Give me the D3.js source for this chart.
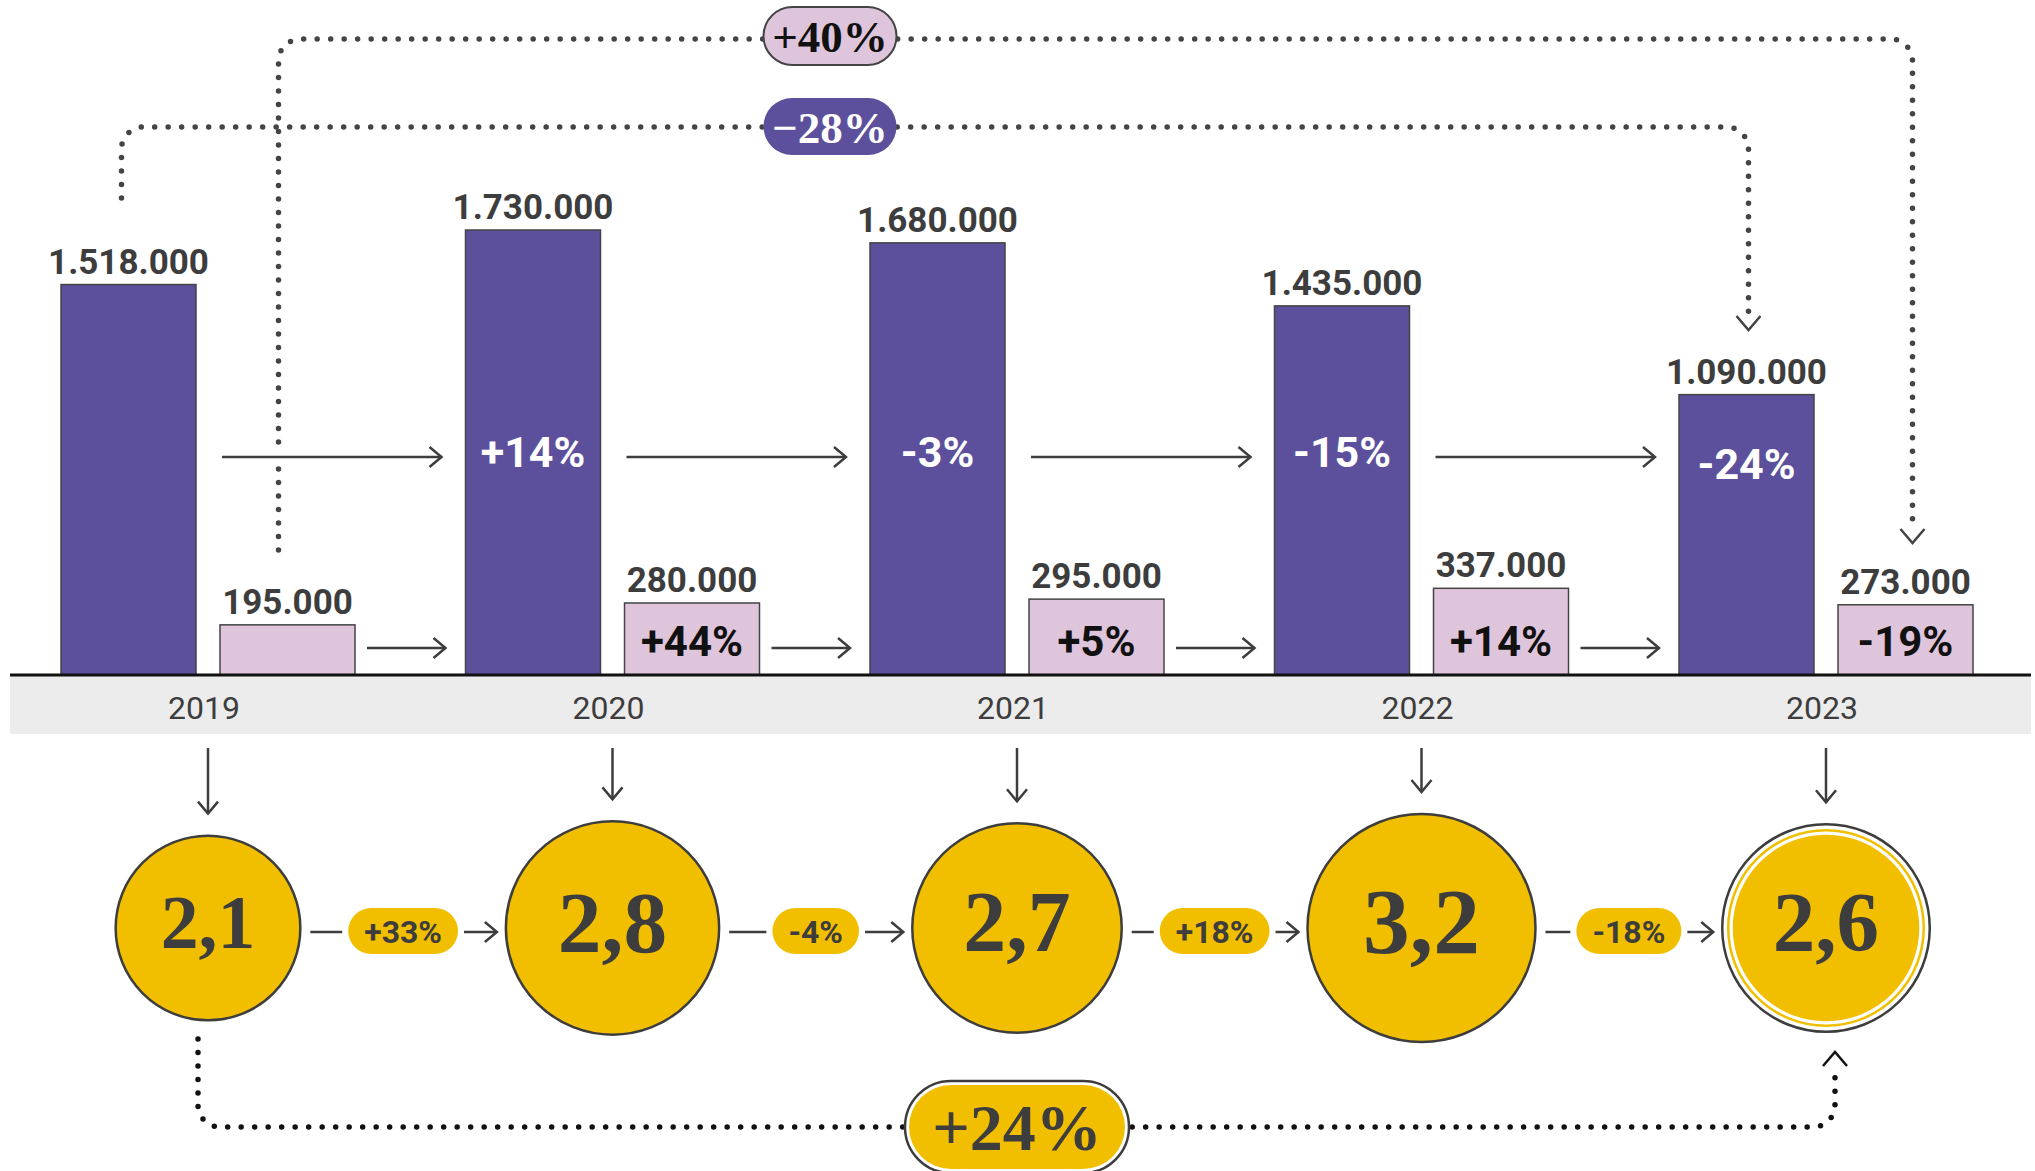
<!DOCTYPE html>
<html>
<head>
<meta charset="utf-8">
<script src="https://cdn.jsdelivr.net/npm/d3@7"></script>
<style>
  body { margin: 0; background: #fff; }
  svg { display: block; }
  text { font-family: Roboto, sans-serif; }
</style>
</head>
<body>
<svg width="2035" height="1171"></svg>
<script>
// Data
var years = ['2019', '2020', '2021', '2022', '2023']
var totalValues = [1518000, 1730000, 1680000, 1435000, 1090000]
var totalChange = [null, '+14%', '-3%', '-15%', '-24%']
var subValues = [195000, 280000, 295000, 337000, 273000]
var subChange = [null, '+44%', '+5%', '+14%', '-19%']
var ratioValues = [2.1, 2.8, 2.7, 3.2, 2.6]
var ratioChange = ['+33%', '-4%', '+18%', '-18%']
var totalOverall = '\u221228%'
var subOverall = '+40%'
var ratioOverall = '+24%'

var PURPLE = '#5c509c', PINK = '#dec5dc', YELLOW = '#f2bf00', DARK = '#3d3d3d'

var svg = d3.select('svg'),
  width = +svg.attr('width'),
  height = +svg.attr('height')

var locale = d3.formatLocale({ decimal: ',', thousands: '.', grouping: [3], currency: ['', ''] })
var fmtInt = locale.format(',d')
var fmtDec = locale.format('.1f')

// Scales
var baseY = 675
var x = d3.scalePoint().domain(years).range([208, 1826])
var inner = d3.scaleBand().domain(['total', 'sub']).range([-147, 147]).paddingInner(0.151)
var y = d3.scaleLinear().domain([0, 1730000]).range([baseY, 230])
var r = d3.scaleSqrt().domain([0, 3.2]).range([0, 114])
var cy = 928

var totX = function(i) { return x(years[i]) + inner('total') }
var subX = function(i) { return x(years[i]) + inner('sub') }
var bw = inner.bandwidth()

// helpers
function chevron(g, px, py, dir, len, half, color) {
  var d
  if (dir === 'right') d = 'M' + (px - len) + ',' + (py - half) + 'L' + px + ',' + py + 'L' + (px - len) + ',' + (py + half)
  if (dir === 'down') d = 'M' + (px - half) + ',' + (py - len) + 'L' + px + ',' + py + 'L' + (px + half) + ',' + (py - len)
  if (dir === 'up') d = 'M' + (px - half) + ',' + (py + len) + 'L' + px + ',' + py + 'L' + (px + half) + ',' + (py + len)
  g.append('path').attr('d', d).attr('fill', 'none')
    .attr('stroke', color || DARK).attr('stroke-width', 2.5).attr('stroke-linejoin', 'miter')
}

function arrow(g, x1, y1, x2, y2) {
  g.append('line').attr('x1', x1).attr('y1', y1).attr('x2', x2).attr('y2', y2)
    .attr('stroke', DARK).attr('stroke-width', 2.5)
  chevron(g, x2, y2, y2 > y1 ? 'down' : 'right', 12, 10)
}

function dotted(g, x0, y0, yh, x1, y1, tip, color) {
  var rad = 22, s = x1 > x0 ? 1 : -1
  var v0 = yh < y0 ? 1 : -1, v1 = y1 > yh ? 1 : -1
  var p = d3.path()
  p.moveTo(x0, y0)
  p.lineTo(x0, yh + v0 * rad)
  p.arcTo(x0, yh, x0 + s * rad, yh, rad)
  p.lineTo(x1 - s * rad, yh)
  p.arcTo(x1, yh, x1, yh + v1 * rad, rad)
  p.lineTo(x1, y1)
  g.append('path').attr('d', p.toString()).attr('fill', 'none')
    .attr('stroke', color).attr('stroke-width', 5.5)
    .attr('stroke-linecap', 'round').attr('stroke-dasharray', '0 13.5')
  chevron(g, x1, tip, v1 > 0 ? 'down' : 'up', 14, 12, color)
}

function pill(g, cx, cyy, w, h, fill, stroke) {
  g.append('rect').attr('x', cx - w / 2).attr('y', cyy - h / 2)
    .attr('width', w).attr('height', h).attr('rx', h / 2)
    .attr('fill', fill).attr('stroke', stroke || 'none').attr('stroke-width', 2)
}

// Band and baseline
svg.append('rect').attr('x', 10).attr('y', baseY).attr('width', width - 14).attr('height', 59).attr('fill', '#ececec')

// Year labels
svg.append('g').selectAll('text').data(years).enter().append('text')
  .attr('x', function(d) { return x(d) - 4 }).attr('y', 719)
  .attr('text-anchor', 'middle').attr('font-size', 32).attr('fill', DARK)
  .text(function(d) { return d })

// Dotted overall connectors
var conn = svg.append('g')
var last = years.length - 1
dotted(conn, totX(0) + bw / 2 - 7, 198, 127, totX(last) + bw / 2 + 2, 318, 330, '#444')
dotted(conn, subX(0) + bw / 2 - 9, 550, 39, subX(last) + bw / 2 + 7, 530, 543, '#444')

// Arrows between bars
var arrows = svg.append('g')
for (var i = 0; i < last; i++) {
  arrows.append('line').attr('x1', subX(i) + 2).attr('x2', totX(i + 1) - 24)
    .attr('y1', 457).attr('y2', 457).attr('stroke', '#fff').attr('stroke-width', 12)
  arrow(arrows, subX(i) + 2, 457, totX(i + 1) - 24, 457)
  arrow(arrows, subX(i) + bw + 12, 648, totX(i + 1) - 20, 648)
}

// Bars
var bars = svg.append('g')
bars.selectAll('rect.total').data(totalValues).enter().append('rect')
  .attr('x', function(d, i) { return totX(i) }).attr('y', function(d) { return y(d) })
  .attr('width', bw).attr('height', function(d) { return baseY - y(d) })
  .attr('fill', PURPLE).attr('stroke', '#444').attr('stroke-width', 1.5)
bars.selectAll('rect.sub').data(subValues).enter().append('rect')
  .attr('x', function(d, i) { return subX(i) }).attr('y', function(d) { return y(d) })
  .attr('width', bw).attr('height', function(d) { return baseY - y(d) })
  .attr('fill', PINK).attr('stroke', '#444').attr('stroke-width', 1.5)
svg.append('line').attr('x1', 10).attr('x2', width - 4).attr('y1', baseY).attr('y2', baseY)
  .attr('stroke', '#111').attr('stroke-width', 3)

// Value labels
var labels = svg.append('g').attr('font-weight', 700).attr('text-anchor', 'middle')
labels.selectAll('text.tv').data(totalValues).enter().append('text')
  .attr('x', function(d, i) { return totX(i) + bw / 2 }).attr('y', function(d) { return y(d) - 11 })
  .attr('font-size', 35).attr('fill', DARK).text(function(d) { return fmtInt(d) })
labels.selectAll('text.sv').data(subValues).enter().append('text')
  .attr('x', function(d, i) { return subX(i) + bw / 2 }).attr('y', function(d) { return y(d) - 11 })
  .attr('font-size', 35).attr('fill', DARK).text(function(d) { return fmtInt(d) })
labels.selectAll('text.tc').data(totalChange).enter().append('text')
  .attr('x', function(d, i) { return totX(i) + bw / 2 })
  .attr('y', function(d, i) { return Math.max(467, y(totalValues[i]) + 84) })
  .attr('font-size', 43).attr('fill', '#fff').text(function(d) { return d || '' })
labels.selectAll('text.sc').data(subChange).enter().append('text')
  .attr('x', function(d, i) { return subX(i) + bw / 2 }).attr('y', 656)
  .attr('font-size', 42).attr('fill', '#111').text(function(d) { return d || '' })

// Overall pills (top)
pill(svg, 830, 36, 133, 58, PINK, '#444')
svg.append('text').attr('x', 830).attr('y', 52).attr('text-anchor', 'middle')
  .style('font-family', '"Liberation Serif", serif').attr('font-weight', 700)
  .attr('font-size', 45).attr('fill', '#111').text(subOverall)
pill(svg, 830, 126.5, 133, 57, PURPLE)
svg.append('text').attr('x', 830).attr('y', 143).attr('text-anchor', 'middle')
  .style('font-family', '"Liberation Serif", serif').attr('font-weight', 700)
  .attr('font-size', 45).attr('fill', '#fff').text(totalOverall)

// Circles row
var hl = function(i) { return i === last }
var rad = function(i) { return r(ratioValues[i]) + (hl(i) ? 1 : 0) }
var circ = svg.append('g')

// down arrows from band
years.forEach(function(yr, i) {
  arrow(circ, x(yr), 748, x(yr), cy - rad(i) - 22)
})

// bottom dotted connector
dotted(svg, x(years[0]) - 10, 1039, 1127, x(years[last]) + 9, 1066, 1052, '#111')

ratioValues.forEach(function(v, i) {
  var cx = x(years[i]), rr = r(v)
  if (hl(i)) {
    circ.append('circle').attr('cx', cx).attr('cy', cy).attr('r', rr + 1)
      .attr('fill', '#fff').attr('stroke', DARK).attr('stroke-width', 2.5)
    circ.append('circle').attr('cx', cx).attr('cy', cy).attr('r', rr - 5)
      .attr('fill', 'none').attr('stroke', YELLOW).attr('stroke-width', 2.5)
    circ.append('circle').attr('cx', cx).attr('cy', cy).attr('r', rr - 9.5).attr('fill', YELLOW)
  } else {
    circ.append('circle').attr('cx', cx).attr('cy', cy).attr('r', rr)
      .attr('fill', YELLOW).attr('stroke', DARK).attr('stroke-width', 2.5)
  }
  var fs = 0.82 * rad(i)
  circ.append('text').attr('x', cx).attr('y', cy + 0.27 * fs).attr('text-anchor', 'middle')
    .style('font-family', '"Liberation Serif", serif').attr('font-weight', 700)
    .attr('font-size', fs).attr('fill', DARK).text(fmtDec(v))
})

// change pills between circles
ratioChange.forEach(function(c, i) {
  var L = x(years[i]) + rad(i), R = x(years[i + 1]) - rad(i + 1)
  var mid = (L + R) / 2, ly = cy + 4
  var g = circ.append('g')
  var t = g.append('text').attr('x', mid).attr('y', cy + 15).attr('text-anchor', 'middle')
    .attr('font-weight', 700).attr('font-size', 32).attr('fill', DARK).text(c)
  var w = t.node().getComputedTextLength() + 32
  g.insert('rect', 'text').attr('x', mid - w / 2).attr('y', cy + 3 - 23).attr('width', w).attr('height', 46)
    .attr('rx', 23).attr('fill', YELLOW)
  g.append('line').attr('x1', L + 10).attr('x2', mid - w / 2 - 6).attr('y1', ly).attr('y2', ly)
    .attr('stroke', DARK).attr('stroke-width', 2.5)
  arrow(g, mid + w / 2 + 6, ly, R - 9, ly)
})

// overall ratio pill (bottom)
var bx = x(years[2])
svg.append('rect').attr('x', bx - 112).attr('y', 1081).attr('width', 224).attr('height', 92)
  .attr('rx', 46).attr('fill', '#fff').attr('stroke', DARK).attr('stroke-width', 2.5)
svg.append('rect').attr('x', bx - 108).attr('y', 1085).attr('width', 216).attr('height', 84)
  .attr('rx', 42).attr('fill', YELLOW)
svg.append('text').attr('x', bx).attr('y', 1150).attr('text-anchor', 'middle')
  .style('font-family', '"Liberation Serif", serif').attr('font-weight', 700)
  .attr('font-size', 66).attr('fill', DARK).text(ratioOverall)
</script>
</body>
</html>
